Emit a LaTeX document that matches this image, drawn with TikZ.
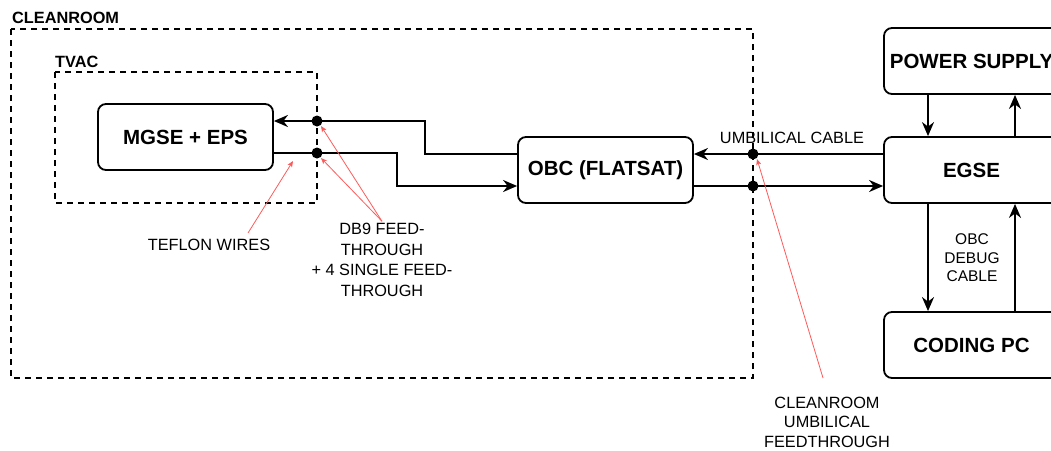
\documentclass[tikz,border=0pt]{standalone}
\usepackage{fontspec}
\setmainfont{Liberation Sans}
\usetikzlibrary{arrows.meta}
\definecolor{notered}{RGB}{255,90,90}
\tikzset{
  box/.style={draw, line width=1.8pt, rounded corners=8pt, minimum width=175pt, minimum height=66pt,
    font=\fontsize{20.5}{24}\selectfont\bfseries, inner sep=0pt},
  zone/.style={draw, line width=1.7pt, dash pattern=on 6pt off 5pt},
  zonelabel/.style={anchor=west, font=\fontsize{16.3}{19}\selectfont\bfseries, inner sep=0pt},
  wire/.style={line width=1.8pt, -{Stealth[length=14pt,width=12pt,inset=4.5pt]}},
  dot/.style={circle, fill=black, inner sep=0pt, minimum size=11pt},
  lbl/.style={font=\fontsize{16.3}{20.5}\selectfont, align=center, inner sep=1pt},
  note/.style={draw=notered, line width=0.8pt, -{Stealth[length=6pt,width=5pt,inset=1.5pt]}}
}
\begin{document}
\begin{tikzpicture}[x=1pt,y=-1pt]
\useasboundingbox (0,0) rectangle (1051,450);
% zones
\draw[zone] (11,29) rectangle (753,378);
\node[zonelabel] (lclean) at (12,18) {CLEANROOM};
\draw[zone] (55,72) rectangle (317,203);
\node[zonelabel] (ltvac) at (55,62) {TVAC};
% boxes
\node[box] (mgse) at (185.5,137) {MGSE + EPS};
\node[box] (obc) at (605.5,170) {OBC (FLATSAT)};
\node[box] (egse) at (971.5,170) {EGSE};
\node[box] (ps) at (971.5,61) {POWER SUPPLY};
\node[box] (pc) at (971.5,345) {CODING PC};
% wires OBC <-> MGSE
\draw[wire] ([yshift=16pt]obc.west) -- ++(-92,0) |- ([yshift=16pt]mgse.east);
\draw[wire] ([yshift=-16pt]mgse.east) -- ++(123,0) |- ([yshift=-16pt]obc.west);
% umbilical
\draw[wire] ([yshift=16pt]egse.west) -- ([yshift=16pt]obc.east);
\draw[wire] ([yshift=-16pt]obc.east) -- ([yshift=-16pt]egse.west);
% power supply
\draw[wire] ([xshift=-43.5pt]ps.south) -- ([xshift=-43.5pt]egse.north);
\draw[wire] ([xshift=43.5pt]egse.north) -- ([xshift=43.5pt]ps.south);
% coding pc
\draw[wire] ([xshift=-43.5pt]egse.south) -- ([xshift=-43.5pt]pc.north);
\draw[wire] ([xshift=43.5pt]pc.north) -- ([xshift=43.5pt]egse.south);
% dots
\node[dot] (f1) at (317,121) {};
\node[dot] (f2) at (317,153) {};
\node[dot] (u1) at (753,154) {};
\node[dot] (u2) at (753,186) {};
% labels
\node[lbl] (ucable) at (792,138) {UMBILICAL CABLE};
\node[lbl, font=\fontsize{15.5}{18.5}\selectfont] (debug) at (972,258) {OBC\\DEBUG\\CABLE};
\node[lbl] (teflon) at (209,245) {TEFLON WIRES};
\node[lbl] (db9) at (382,260) {DB9 FEED-\\THROUGH\\+ 4 SINGLE FEED-\\THROUGH};
\node[lbl, font=\fontsize{16.3}{19.5}\selectfont] (cuf) at (827,422) {CLEANROOM\\UMBILICAL\\FEEDTHROUGH};
% annotations
\coordinate (tws) at (248,233);
\coordinate (twe) at (293,161);
\draw[note] (tws) -- (twe);
\draw[note] ([yshift=1pt]db9.north) -- ([shift={(4pt,-5pt)}]f1.center);
\draw[note] ([yshift=1pt]db9.north) -- ([shift={(4pt,-5pt)}]f2.center);
\coordinate (cufs) at (823,378);
\draw[note] (cufs) -- ([shift={(4pt,-5pt)}]u1.center);
\end{tikzpicture}
\end{document}
